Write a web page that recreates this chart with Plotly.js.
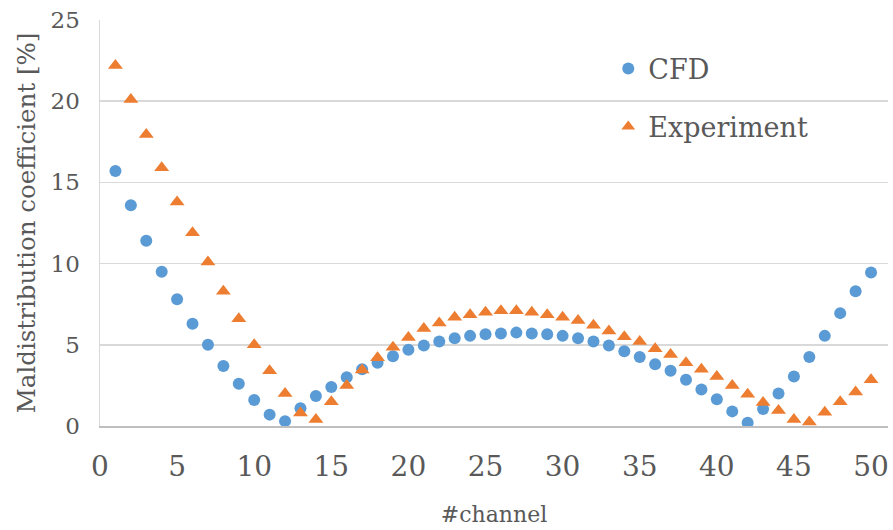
<!DOCTYPE html>
<html>
<head>
<meta charset="utf-8">
<script src="https://cdn.plot.ly/plotly-3.0.1.min.js"></script>
<style>html,body{margin:0;padding:0;background:#fff;}#chart{width:893px;height:530px;}</style>
</head>
<body>
<div id="chart"></div>
<script>
const channel = [1,2,3,4,5,6,7,8,9,10,11,12,13,14,15,16,17,18,19,20,21,22,23,24,25,26,27,28,29,30,31,32,33,34,35,36,37,38,39,40,41,42,43,44,45,46,47,48,49,50];
const cfd = [15.7,13.6,11.4,9.5,7.8,6.3,5.0,3.7,2.6,1.6,0.7,0.3,1.1,1.85,2.4,3.0,3.5,3.9,4.3,4.7,4.95,5.2,5.4,5.55,5.65,5.7,5.75,5.7,5.65,5.55,5.4,5.2,4.95,4.6,4.25,3.8,3.4,2.85,2.25,1.65,0.9,0.2,1.05,2.0,3.05,4.25,5.55,6.95,8.3,9.45];
const experiment = [22.2,20.1,17.95,15.9,13.8,11.9,10.1,8.3,6.6,5.0,3.4,2.0,0.8,0.4,1.5,2.5,3.45,4.2,4.85,5.45,6.0,6.35,6.7,6.85,7.0,7.1,7.1,7.0,6.85,6.7,6.5,6.2,5.85,5.5,5.2,4.75,4.4,3.9,3.5,3.05,2.5,1.95,1.45,0.95,0.4,0.25,0.85,1.5,2.1,2.85];
const xTicks = [0,5,10,15,20,25,30,35,40,45,50];
const yTicks = [0,5,10,15,20,25];
const seriesNames = ['CFD','Experiment'];

const serif = 'DejaVu Serif';
const traces = [
  {x: channel, y: cfd, name: seriesNames[0], type: 'scatter', mode: 'markers', legendgroup: 'a',
   marker: {symbol: 'circle', size: 12, color: '#5B9BD5'}},
  {x: channel, y: experiment, name: seriesNames[1], type: 'scatter', mode: 'markers', legendgroup: 'b',
   marker: {symbol: 'triangle-up', size: 13, color: '#ED7D31'}}
];
const layout = {
  width: 893, height: 530,
  margin: {l: 100, r: 5, t: 20, b: 104},
  paper_bgcolor: '#fff', plot_bgcolor: '#fff',
  font: {family: serif, color: '#595959'},
  showlegend: true,
  legend: {x: 0.645, y: 0.94, xanchor: 'left', yanchor: 'top', bgcolor: 'rgba(0,0,0,0)',
    font: {family: serif, size: 27, color: '#595959'}, itemsizing: 'constant',
    traceorder: 'grouped', tracegroupgap: 20},
  xaxis: {range: [0, 51.1], tickvals: xTicks, ticktext: xTicks.map(String), showgrid: false, zeroline: false,
    showline: true, linecolor: '#BFBFBF', linewidth: 1.5, ticks: '', ticklabelstandoff: 15,
    tickfont: {family: serif, size: 28, color: '#595959'},
    title: {text: '#channel', font: {family: serif, size: 22, color: '#595959'}, standoff: 24}},
  yaxis: {range: [0, 25], tickvals: yTicks, ticktext: yTicks.map(String), showgrid: true, gridcolor: '#D9D9D9', gridwidth: 1.5,
    zeroline: false, showline: true, linecolor: '#D9D9D9', linewidth: 1.5, ticks: '', ticklabelstandoff: 14,
    tickfont: {family: serif, size: 23, color: '#595959'},
    title: {text: 'Maldistribution coefficient [%]', font: {family: serif, size: 24.5, color: '#595959'}, standoff: 8}}
};
Plotly.newPlot('chart', traces, layout, {displayModeBar: false, staticPlot: true});
</script>
</body>
</html>
